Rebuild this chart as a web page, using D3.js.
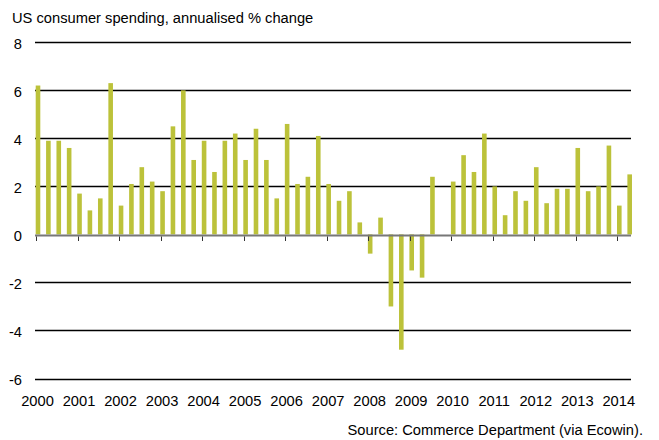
<!DOCTYPE html>
<html>
<head>
  <script src="https://d3js.org/d3.v7.min.js"></script>
  <style>
    body { margin: 0; background: #fff; }
    text { font-family: "Liberation Sans", Arial, sans-serif; fill: #000; }
  </style>
</head>
<body>
  <svg id="chart" width="659" height="440"></svg>
  <script>
    // Quarterly data, 2000 Q1 to 2014 Q2
    const startYear = 2000;
    const values = [
      6.2, 3.9, 3.9, 3.6,   // 2000
      1.7, 1.0, 1.5, 6.3,   // 2001
      1.2, 2.1, 2.8, 2.2,   // 2002
      1.8, 4.5, 6.0, 3.1,   // 2003
      3.9, 2.6, 3.9, 4.2,   // 2004
      3.1, 4.4, 3.1, 1.5,   // 2005
      4.6, 2.1, 2.4, 4.1,   // 2006
      2.1, 1.4, 1.8, 0.5,   // 2007
      -0.8, 0.7, -3.0, -4.8, // 2008
      -1.5, -1.8, 2.4, 0.0, // 2009
      2.2, 3.3, 2.6, 4.2,   // 2010
      2.0, 0.8, 1.8, 1.4,   // 2011
      2.8, 1.3, 1.9, 1.9,   // 2012
      3.6, 1.8, 2.0, 3.7,   // 2013
      1.2, 2.5              // 2014
    ];
    const years = d3.range(2000, 2015);
    const yTicks = [8, 6, 4, 2, 0, -2, -4, -6];

    const svg = d3.select("#chart");
    const left = 35, right = 631;
    const fontSize = 14.7;

    const x = d3.scaleLinear()
      .domain([2000, 2014])
      .range([36, 617.3]);

    const y = d3.scaleLinear()
      .domain([-6, 8])
      .range([378.5, 42.3]);

    // Title
    svg.append("text")
      .attr("x", 12)
      .attr("y", 22.5)
      .attr("font-size", fontSize)
      .text("US consumer spending, annualised % change");

    // Gridlines (non-zero)
    svg.append("g")
      .selectAll("line")
      .data(yTicks.filter(d => d !== 0))
      .enter()
      .append("line")
      .attr("x1", left)
      .attr("x2", right)
      .attr("y1", d => Math.round(y(d)) + 0.5)
      .attr("y2", d => Math.round(y(d)) + 0.5)
      .attr("stroke", "#000")
      .attr("stroke-width", 1.3);

    // Y tick labels
    svg.append("g")
      .selectAll("text")
      .data(yTicks)
      .enter()
      .append("text")
      .attr("x", 22)
      .attr("y", d => y(d) + 6.5)
      .attr("text-anchor", "end")
      .attr("font-size", fontSize)
      .text(d => d);

    // Bars
    const barW = 4.6;
    svg.append("g")
      .selectAll("rect")
      .data(values)
      .enter()
      .append("rect")
      .attr("x", (d, i) => x(startYear + i / 4) - 0.3)
      .attr("y", d => d >= 0 ? y(d) : y(0))
      .attr("width", barW)
      .attr("height", d => Math.abs(y(d) - y(0)))
      .attr("fill", "#bcc23a");

    // Zero axis line
    svg.append("line")
      .attr("x1", left)
      .attr("x2", right)
      .attr("y1", 235.5)
      .attr("y2", 235.5)
      .attr("stroke", "#777")
      .attr("stroke-width", 2);

    // Year ticks
    svg.append("g")
      .selectAll("line")
      .data(years)
      .enter()
      .append("line")
      .attr("x1", d => Math.round(x(d)) + 0.5)
      .attr("x2", d => Math.round(x(d)) + 0.5)
      .attr("y1", 236.5)
      .attr("y2", 241)
      .attr("stroke", "#333")
      .attr("stroke-width", 1);

    // Year labels
    svg.append("g")
      .selectAll("text")
      .data(years)
      .enter()
      .append("text")
      .attr("x", d => x(d) + 1.5)
      .attr("y", 406)
      .attr("text-anchor", "middle")
      .attr("font-size", fontSize)
      .text(d => d);

    // Source
    svg.append("text")
      .attr("x", 643)
      .attr("y", 434.5)
      .attr("text-anchor", "end")
      .attr("font-size", fontSize)
      .text("Source: Commerce Department (via Ecowin).");
  </script>
</body>
</html>
